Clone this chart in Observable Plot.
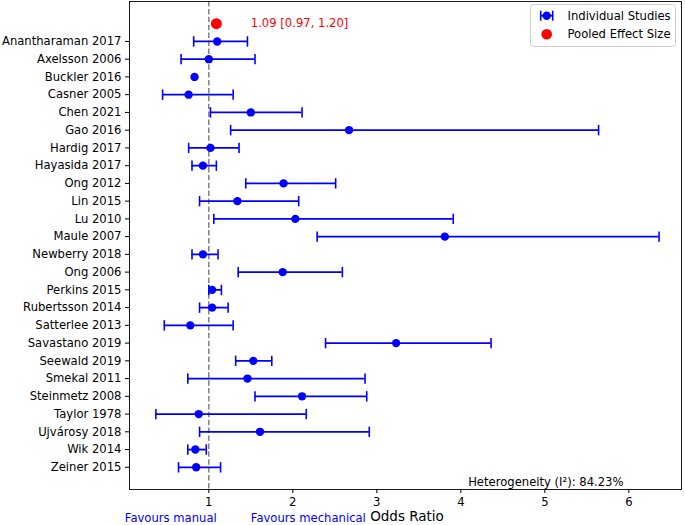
<!DOCTYPE html>
<html>
<head>
<meta charset="utf-8">
<script src="https://cdn.jsdelivr.net/npm/d3@7"></script>
<script src="https://cdn.jsdelivr.net/npm/@observablehq/plot@0.6"></script>
<style>
  html, body { margin: 0; padding: 0; background: #fff; }
  #chart svg { display: block; }
</style>
</head>
<body>
<div id="chart"></div>
<script>
// ---- data ----
const studies = ["Anantharaman 2017","Axelsson 2006","Buckler 2016","Casner 2005","Chen 2021","Gao 2016","Hardig 2017","Hayasida 2017","Ong 2012","Lin 2015","Lu 2010","Maule 2007","Newberry 2018","Ong 2006","Perkins 2015","Rubertsson 2014","Satterlee 2013","Savastano 2019","Seewald 2019","Smekal 2011","Steinmetz 2008","Taylor 1978","Ujvárosy 2018","Wik 2014","Zeiner 2015"];
const oddsRatio = [1.10,1.00,0.83,0.76,1.50,2.67,1.02,0.93,1.89,1.34,2.03,3.81,0.93,1.88,1.04,1.04,0.78,3.23,1.53,1.46,2.11,0.88,1.61,0.84,0.85];
const lower     = [0.82,0.67,null,0.45,1.02,1.26,0.76,0.80,1.44,0.89,1.06,2.29,0.80,1.35,1.00,0.89,0.47,2.39,1.32,0.75,1.55,0.37,0.89,0.75,0.64];
const upper     = [1.46,1.55,null,1.29,2.11,5.64,1.36,1.09,2.51,2.07,3.91,6.36,1.11,2.59,1.15,1.23,1.29,4.36,1.75,2.86,2.88,2.16,2.91,0.97,1.14];
const pooled = {or: 1.09, lower: 0.97, upper: 1.20};
const heterogeneity = 84.23;
const xTicks = [1,2,3,4,5,6];
const legendLabels = ["Individual Studies","Pooled Effect Size"];
const favourLabels = [{x: 0, text: "Favours manual"}, {x: 1.5, text: "Favours mechanical"}];

// ---- build table ----
const rows = studies.map((s, i) => ({study: s, i, or: oddsRatio[i], lo: lower[i], hi: upper[i]}));
const ciRows = rows.filter(d => d.lo != null && d.hi != null);
const pooledRow = [{i: -1, or: pooled.or, label: `${pooled.or.toFixed(2)} [${pooled.lower.toFixed(2)}, ${pooled.upper.toFixed(2)}]`, tx: pooled.upper + 0.3}];

const FONT = "DejaVu Sans, Liberation Sans, sans-serif";
const capSymbol = {draw(ctx, size) { const h = Math.sqrt(size / Math.PI); ctx.moveTo(0, -h); ctx.lineTo(0, h); }};

const chart = Plot.plot({
  width: 685,
  height: 525,
  marginLeft: 129,
  marginRight: 4,
  marginTop: 1,
  marginBottom: 36,
  style: {fontFamily: FONT, fontSize: "11.6px", color: "#000", background: "#fff"},
  x: {domain: [0.056, 6.627], label: null},
  y: {domain: [-2.25, 25.25], reverse: true, label: null},
  marks: [
    Plot.ruleX([1], {stroke: "#808080", strokeWidth: 1.5, strokeDasharray: "5.5,2.4"}),
    Plot.ruleY(ciRows, {y: "i", x1: "lo", x2: "hi", stroke: "blue", strokeWidth: 1.8}),
    Plot.dot(ciRows, {y: "i", x: "lo", symbol: capSymbol, r: 5.2, stroke: "blue", fill: "none", strokeWidth: 1.6}),
    Plot.dot(ciRows, {y: "i", x: "hi", symbol: capSymbol, r: 5.2, stroke: "blue", fill: "none", strokeWidth: 1.6}),
    Plot.dot(rows, {y: "i", x: "or", r: 4.2, fill: "blue", stroke: "none"}),
    Plot.dot(pooledRow, {y: "i", x: "or", r: 5.5, fill: "red", stroke: "none"}),
    Plot.text(pooledRow, {y: "i", x: "tx", text: "label", fill: "red", textAnchor: "start", fontSize: 11.6}),
    Plot.axisX({ticks: xTicks, tickFormat: d => String(d), tickSize: 4, tickPadding: 4, label: null, fontSize: 11.6, stroke: "#000"}),
    Plot.axisY({ticks: d3.range(studies.length), tickFormat: i => studies[i], tickSize: 4, tickPadding: 4, label: null, fontSize: 11.6}),
    Plot.text([`Heterogeneity (I²): ${heterogeneity.toFixed(2)}%`], {text: d => d, frameAnchor: "bottom-right", dx: -58, dy: -4, textAnchor: "end", lineAnchor: "bottom", fontSize: 11.6, fill: "#000"}),
    Plot.text(favourLabels, {x: "x", text: "text", frameAnchor: "bottom", dy: 32, textAnchor: "start", lineAnchor: "bottom", fill: "blue", fontSize: 11.6}),
    Plot.text(["Odds Ratio"], {text: d => d, frameAnchor: "bottom", dx: 1.5, dy: 31, lineAnchor: "bottom", fontSize: 13.5, fill: "#000"}),
    Plot.frame({stroke: "#000", strokeWidth: 0.9})
  ]
});
document.getElementById("chart").appendChild(chart);

// ---- legend (matplotlib-style box, upper right) ----
const svg = d3.select(chart);
const lg = svg.append("g").attr("font-family", FONT).attr("font-size", "11.6px").attr("text-anchor", "start");
lg.append("rect").attr("x", 530.5).attr("y", 4.5).attr("width", 145).attr("height", 42).attr("rx", 3)
  .attr("fill", "#fff").attr("fill-opacity", 0.8).attr("stroke", "#cccccc").attr("stroke-width", 1);
const rowsY = [15.7, 34.3];
const mx = 546.7;
// Individual studies icon
lg.append("line").attr("x1", mx - 6).attr("x2", mx + 6).attr("y1", rowsY[0]).attr("y2", rowsY[0]).attr("stroke", "blue").attr("stroke-width", 1.8);
[mx - 6, mx + 6].forEach(cx => lg.append("line").attr("x1", cx).attr("x2", cx).attr("y1", rowsY[0] - 5).attr("y2", rowsY[0] + 5).attr("stroke", "blue").attr("stroke-width", 1.6));
lg.append("circle").attr("cx", mx).attr("cy", rowsY[0]).attr("r", 4.2).attr("fill", "blue");
// Pooled icon
lg.append("circle").attr("cx", mx).attr("cy", rowsY[1]).attr("r", 5.3).attr("fill", "red");
legendLabels.forEach((t, k) => lg.append("text").attr("x", 567.5).attr("y", rowsY[k]).attr("dy", "0.35em").attr("fill", "#000").attr("text-anchor", "start").text(t));
</script>
</body>
</html>
